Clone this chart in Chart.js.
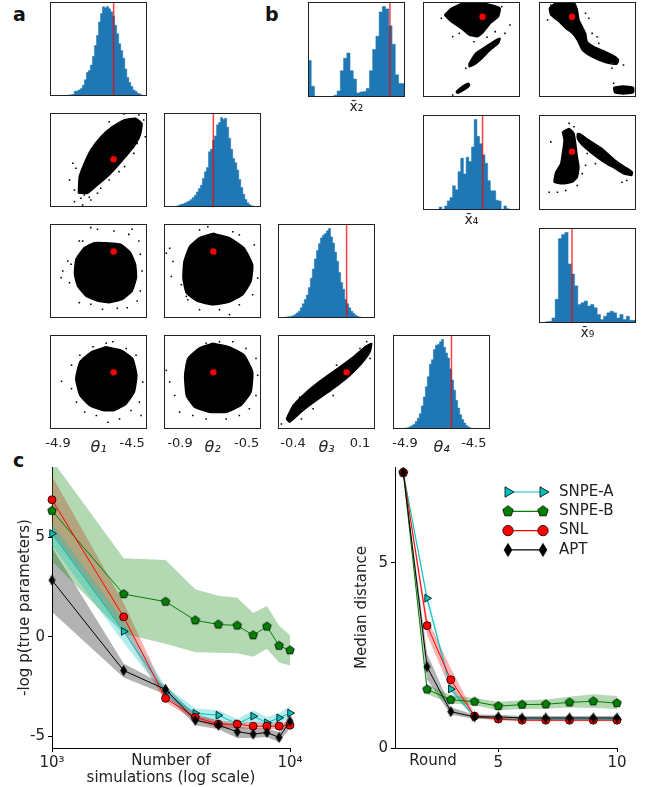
<!DOCTYPE html>
<html>
<head>
<meta charset="utf-8">
<script src="https://cdn.jsdelivr.net/npm/chart.js@4.4.1/dist/chart.umd.min.js"></script>
<style>
  body { margin:0; width:645px; height:787px; position:relative; overflow:hidden; background:#fff; font-family:'DejaVu Sans', sans-serif; }
  canvas { position:absolute; }
  .panel { position:absolute; font-weight:bold; font-size:19px; line-height:19px; color:#111; }
</style>
</head>
<body>
<div class="panel" style="left:13px;top:5px">a</div>
<div class="panel" style="left:265px;top:5px">b</div>
<div class="panel" style="left:13px;top:451px">c</div>
<script>
// ---- panel a : posterior over theta
const thetaLabels = ['θ\u2081', 'θ\u2082', 'θ\u2083', 'θ\u2084'];
const thetaMin = [-4.943, -0.996, -0.512, -4.97];
const thetaMax = [-4.42, -0.414, 0.212, -4.406];
const thetaTrue = [-4.60, -0.70, 0.0, -4.63];
const thetaTicks = [[-4.9, -4.5], [-0.9, -0.5], [-0.4, 0.1], [-4.9, -4.5]];

const histT1 = [0,0,0,0,0,1,1,2,1,2,3,4,5,14,15,18,22,32,48,70,76,92,118,150,180,220,245,265,262,266,259,250,238,210,185,155,135,112,80,55,40,28,18,14,8,6,3,1];
const histT2 = [0,0,0,0,1,1,2,3,5,8,9,12,15,18,22,28,35,45,55,65,85,105,118,165,172,200,212,245,252,267,262,265,238,205,172,145,132,110,82,58,38,22,13,7,4,2,1,0];
const histT3 = [0,0,0,0,2,3,4,5,7,10,15,20,30,42,55,68,90,118,145,175,200,220,237,245,250,258,265,240,222,195,168,135,105,85,55,42,30,20,14,8,5,3,2,1,0,0,0,0];
const histT4 = [0,2,1,0,2,1,2,3,4,7,10,14,22,32,45,68,95,125,155,192,205,235,248,250,258,265,242,225,210,178,145,115,85,62,42,28,18,10,6,3,2,1,0,0,0,0,0,0];

// sample clouds: outline of the dense region + loose samples around it
const cloudA21 = [[-4.790,-0.911],[-4.785,-0.808],[-4.758,-0.725],[-4.723,-0.643],[-4.669,-0.561],[-4.607,-0.499],[-4.544,-0.457],[-4.482,-0.447],[-4.447,-0.478],[-4.456,-0.550],[-4.491,-0.623],[-4.536,-0.685],[-4.589,-0.756],[-4.642,-0.818],[-4.687,-0.860],[-4.740,-0.911]];
const strayA21 = [[-4.820,-0.725],[-4.803,-0.756],[-4.838,-0.829],[-4.811,-0.891],[-4.776,-0.942],[-4.758,-0.922],[-4.811,-0.963],[-4.767,-0.984],[-4.731,-0.936],[-4.669,-0.880],[-4.624,-0.829],[-4.571,-0.777],[-4.541,-0.746],[-4.491,-0.664],[-4.473,-0.602],[-4.429,-0.561],[-4.438,-0.457],[-4.464,-0.426],[-4.544,-0.420],[-4.624,-0.468],[-4.687,-0.911],[-4.723,-0.953],[-4.785,-0.870]];
const cloudA31 = [[-4.642,0.068],[-4.562,0.056],[-4.509,-0.009],[-4.482,-0.098],[-4.477,-0.202],[-4.500,-0.304],[-4.553,-0.368],[-4.624,-0.394],[-4.687,-0.381],[-4.749,-0.343],[-4.794,-0.266],[-4.811,-0.175],[-4.803,-0.060],[-4.758,0.030],[-4.704,0.068]];
const strayA31 = [[-4.874,-0.150],[-4.883,-0.202],[-4.838,-0.240],[-4.829,-0.098],[-4.785,0.081],[-4.723,0.184],[-4.687,0.171],[-4.598,0.158],[-4.518,0.132],[-4.464,0.081],[-4.456,-0.021],[-4.447,-0.150],[-4.456,-0.304],[-4.473,-0.381],[-4.527,-0.433],[-4.580,-0.437],[-4.660,-0.445],[-4.723,-0.406],[-4.785,-0.394],[-4.767,0.081],[-4.500,0.171],[-4.847,-0.073]];
const cloudA32 = [[-0.703,0.140],[-0.603,0.107],[-0.514,0.025],[-0.464,-0.103],[-0.474,-0.231],[-0.524,-0.333],[-0.603,-0.389],[-0.703,-0.410],[-0.793,-0.384],[-0.862,-0.320],[-0.882,-0.205],[-0.876,-0.077],[-0.843,0.038],[-0.783,0.107]];
const strayA32 = [[-0.982,-0.013],[-0.962,0.025],[-0.942,-0.077],[-0.952,-0.192],[-0.892,-0.256],[-0.862,-0.346],[-0.733,0.191],[-0.783,0.166],[-0.583,0.153],[-0.544,0.128],[-0.454,0.051],[-0.434,-0.205],[-0.464,-0.333],[-0.544,-0.410],[-0.603,-0.486],[-0.663,-0.448],[-0.783,-0.448],[-0.853,-0.371]];
const cloudA41 = [[-4.640,-4.477],[-4.559,-4.497],[-4.497,-4.547],[-4.475,-4.648],[-4.488,-4.748],[-4.532,-4.819],[-4.595,-4.859],[-4.657,-4.859],[-4.729,-4.829],[-4.782,-4.769],[-4.804,-4.668],[-4.782,-4.567],[-4.720,-4.507]];
const strayA41 = [[-4.881,-4.684],[-4.827,-4.587],[-4.782,-4.527],[-4.711,-4.477],[-4.640,-4.456],[-4.604,-4.446],[-4.532,-4.487],[-4.479,-4.527],[-4.443,-4.688],[-4.461,-4.809],[-4.452,-4.889],[-4.506,-4.859],[-4.568,-4.910],[-4.631,-4.930],[-4.693,-4.889],[-4.756,-4.869],[-4.800,-4.809],[-4.827,-4.728]];
const cloudA42 = [[-0.703,-4.456],[-0.603,-4.477],[-0.514,-4.527],[-0.464,-4.628],[-0.474,-4.748],[-0.534,-4.829],[-0.623,-4.869],[-0.723,-4.869],[-0.813,-4.839],[-0.862,-4.769],[-0.872,-4.648],[-0.853,-4.547],[-0.783,-4.483]];
const strayA42 = [[-0.982,-4.618],[-0.962,-4.688],[-0.932,-4.769],[-0.902,-4.869],[-0.862,-4.587],[-0.833,-4.527],[-0.743,-4.456],[-0.663,-4.446],[-0.583,-4.446],[-0.504,-4.487],[-0.444,-4.547],[-0.434,-4.648],[-0.444,-4.769],[-0.484,-4.849],[-0.544,-4.889],[-0.623,-4.910],[-0.743,-4.910],[-0.823,-4.889]];
const cloudA43 = [[-0.450,-4.910],[-0.400,-4.829],[-0.300,-4.748],[-0.175,-4.668],[-0.050,-4.597],[0.050,-4.537],[0.137,-4.477],[0.187,-4.456],[0.175,-4.507],[0.112,-4.577],[0.025,-4.648],[-0.100,-4.728],[-0.225,-4.799],[-0.325,-4.859],[-0.425,-4.930]];
const strayA43 = [[-0.487,-4.940],[-0.437,-4.889],[-0.400,-4.879],[-0.350,-4.779],[-0.200,-4.698],[-0.075,-4.587],[0.100,-4.487],[0.150,-4.446],[0.175,-4.547],[0.050,-4.628],[-0.100,-4.769],[-0.250,-4.849],[-0.337,-4.910]];

// ---- panel b : summary statistics (scaled 0..1)
const xbarLabels = ['x\u0304\u2082', 'x\u0304\u2084', 'x\u0304\u2089'];
const xbarTrue = [0.845, 0.614, 0.34];
const histX2 = [26,108,32,2,0,0,0,0,0,5,18,78,115,130,78,53,12,15,16,25,78,141,180,252,268,261,211,156,66,40];
const histX4 = [0,0,0,0,0,0,0,9,0,12,27,37,72,60,114,154,107,157,144,187,269,219,197,164,139,87,57,57,29,27,0,12,4,0,0,0];
const histX9 = [0,0,0,4,5,15,70,250,262,268,175,145,110,55,60,65,50,55,45,25,10,20,30,35,30,15,25,10,20,8];

const cloudB12a = [[0.222,0.863],[0.290,0.933],[0.407,0.986],[0.576,0.993],[0.710,0.968],[0.795,0.933],[0.778,0.846],[0.694,0.775],[0.626,0.688],[0.559,0.635],[0.475,0.653],[0.391,0.723],[0.290,0.793]];
const cloudB12b = [[0.475,0.354],[0.542,0.460],[0.643,0.530],[0.761,0.607],[0.795,0.618],[0.778,0.565],[0.694,0.495],[0.609,0.407],[0.525,0.337],[0.475,0.319]];
const cloudB12c = [[0.340,0.056],[0.391,0.102],[0.468,0.144],[0.481,0.123],[0.424,0.074],[0.357,0.039]];
const strayB12 = [[0.189,0.828],[0.306,0.635],[0.374,0.670],[0.525,0.582],[0.744,0.688],[0.845,0.670],[0.896,0.758],[0.811,0.951],[0.441,0.302],[0.306,0.021],[0.660,0.628]];
const cloudB13a = [[0.105,0.933],[0.173,0.993],[0.361,0.993],[0.395,0.916],[0.412,0.811],[0.446,0.740],[0.480,0.670],[0.497,0.582],[0.565,0.530],[0.684,0.477],[0.786,0.425],[0.820,0.389],[0.803,0.347],[0.718,0.354],[0.616,0.389],[0.514,0.442],[0.446,0.495],[0.395,0.600],[0.344,0.670],[0.276,0.723],[0.207,0.793],[0.122,0.863]];
const cloudB13b = [[0.769,0.102],[0.871,0.116],[0.973,0.102],[0.973,0.046],[0.871,0.032],[0.779,0.046]];
const strayB13 = [[0.088,0.811],[0.122,0.968],[0.480,0.881],[0.514,0.828],[0.548,0.670],[0.599,0.635],[0.616,0.565],[0.871,0.337],[0.752,0.302],[0.769,0.144]];
const cloudB23a = [[0.241,0.823],[0.310,0.859],[0.361,0.806],[0.378,0.700],[0.395,0.558],[0.412,0.452],[0.395,0.346],[0.344,0.293],[0.241,0.276],[0.156,0.293],[0.173,0.399],[0.224,0.488],[0.241,0.594],[0.259,0.735]];
const cloudB23b = [[0.395,0.806],[0.429,0.799],[0.514,0.735],[0.650,0.647],[0.786,0.523],[0.888,0.452],[0.963,0.399],[0.956,0.364],[0.871,0.382],[0.786,0.435],[0.667,0.505],[0.548,0.594],[0.446,0.682],[0.395,0.753]];
const strayB23 = [[0.122,0.717],[0.310,0.912],[0.361,0.876],[0.105,0.187],[0.276,0.205],[0.395,0.258],[0.480,0.470],[0.582,0.488],[0.446,0.382],[0.854,0.293],[0.905,0.311],[0.497,0.594],[0.190,0.187]];

// ---- panel c : performance
const methods = ['SNPE-A', 'SNPE-B', 'SNL', 'APT'];
const sims = [1000, 2000, 3000, 4000, 5000, 6000, 7000, 8000, 9000, 10000];
const simTicks = [1000, 10000];
const simTickLabels = ['10\u00b3', '10\u2074'];
const lpTicks = [5, 0, -5];
const lpSnpeA = [5.2, 0.27, -2.8, -3.85, -3.95, -4.38, -4.0, -4.33, -4.08, -3.84];
const lpSnpeB = [6.35, 2.15, 1.77, 0.83, 0.62, 0.57, 0.08, 0.52, -0.45, -0.68];
const lpSnl   = [6.9, 1.0, -3.1, -4.05, -4.4, -4.4, -4.5, -4.5, -4.5, -4.45];
const lpApt   = [2.85, -1.7, -2.65, -4.2, -4.45, -4.78, -4.9, -4.82, -5.07, -4.25];
const lpSnpeAHi = [5.7, 0.8, -2.5, -3.6, -3.7, -4.15, -3.7, -4.05, -3.85, -3.5];
const lpSnpeALo = [4.6, -0.3, -3.0, -4.1, -4.2, -4.6, -4.25, -4.55, -4.35, -4.1];
const lpSnpeBHi = [8.9, 3.95, 3.87, 2.4, 2.07, 1.97, 1.2, 1.55, 0.55, 0.08];
const lpSnpeBLo = [3.8, 0.15, -0.35, -0.78, -0.8, -0.83, -1.0, -0.6, -1.3, -1.45];
const lpSnlHi = [8.1, 1.7, -2.8, -3.85, -4.25, -4.25, -4.3, -4.3, -4.3, -4.25];
const lpSnlLo = [5.2, 0.3, -3.3, -4.2, -4.6, -4.6, -4.65, -4.65, -4.65, -4.65];
const lpAptHi = [4.5, -1.35, -2.45, -3.95, -4.2, -4.5, -4.6, -4.6, -4.8, -3.9];
const lpAptLo = [1.25, -2.05, -2.9, -4.45, -4.65, -5.1, -5.1, -5.05, -5.3, -4.6];

const rounds = [1, 2, 3, 4, 5, 6, 7, 8, 9, 10];
const roundTicks = [5, 10];
const distTicks = [0, 5];
const mdSnpeA = [7.43, 4.04, 1.59, 0.84, 0.79, 0.78, 0.77, 0.77, 0.77, 0.77];
const mdSnpeB = [7.43, 1.58, 1.30, 1.25, 1.13, 1.17, 1.18, 1.23, 1.26, 1.21];
const mdSnl   = [7.43, 3.30, 1.84, 0.86, 0.78, 0.75, 0.75, 0.75, 0.75, 0.75];
const mdApt   = [7.43, 2.19, 0.98, 0.84, 0.84, 0.81, 0.81, 0.81, 0.81, 0.81];
const mdSnpeAHi = [7.48, 4.16, 1.70, 0.88, 0.82, 0.81, 0.80, 0.80, 0.80, 0.80];
const mdSnpeALo = [7.38, 3.92, 1.50, 0.80, 0.76, 0.75, 0.74, 0.74, 0.74, 0.74];
const mdSnpeBHi = [7.48, 1.72, 1.42, 1.35, 1.25, 1.29, 1.31, 1.38, 1.45, 1.40];
const mdSnpeBLo = [7.38, 1.45, 1.20, 1.15, 1.02, 1.05, 1.06, 1.09, 1.08, 1.05];
const mdSnlHi = [7.48, 3.50, 2.15, 0.92, 0.82, 0.79, 0.79, 0.79, 0.79, 0.79];
const mdSnlLo = [7.38, 3.05, 1.55, 0.80, 0.74, 0.72, 0.72, 0.72, 0.72, 0.72];
const mdAptHi = [7.48, 2.55, 1.10, 0.90, 0.90, 0.86, 0.86, 0.86, 0.86, 0.86];
const mdAptLo = [7.38, 1.85, 0.90, 0.78, 0.79, 0.77, 0.77, 0.77, 0.77, 0.77];

// ---- defaults
Chart.defaults.font.family = "'DejaVu Sans', sans-serif";
Chart.defaults.color = '#222';
Chart.defaults.animation = false;
Chart.defaults.responsive = false;
Chart.defaults.events = [];
Chart.defaults.plugins.legend.display = false;
Chart.defaults.plugins.tooltip.enabled = false;

function addCanvas(left, top, w, h) {
  const cv = document.createElement('canvas');
  cv.width = w; cv.height = h;
  cv.style.left = left + 'px'; cv.style.top = top + 'px';
  cv.style.width = w + 'px'; cv.style.height = h + 'px';
  document.body.appendChild(cv);
  return cv;
}

const toXY = p => ({ x: p[0], y: p[1] });
const closePoly = p => p.concat([p[0]]).map(toXY);

// box around each small panel
const framePlugin = {
  id: 'frame',
  afterDraw(c) {
    const a = c.chartArea, ctx = c.ctx;
    ctx.save();
    ctx.strokeStyle = '#222';
    ctx.lineWidth = 1;
    ctx.strokeRect(Math.round(a.left) + 0.5, Math.round(a.top) + 0.5, Math.round(a.width) - 1, Math.round(a.height) - 1);
    ctx.restore();
  }
};

// bottom axis of the small panels (ticks + label, or label only)
function xAxis(min, max, lbl) {
  const o = { type: 'linear', min: min, max: max, offset: false, display: !!lbl, grid: { offset: false } };
  if (!lbl) return o;
  return Object.assign(o, {
    grid: { display: false, drawTicks: false, offset: false },
    border: { display: false },
    afterFit: s => { s.height = lbl.ticks ? 30 : 22; s.paddingLeft = 0; s.paddingRight = 0; },
    afterBuildTicks: s => { s.ticks = (lbl.ticks || []).map(v => ({ value: v })); },
    ticks: { display: !!lbl.ticks, padding: 7, autoSkip: false, maxRotation: 0, font: { size: 13 }, callback: v => v.toFixed(1) },
    title: { display: true, text: lbl.title, color: '#222',
      font: { size: lbl.ticks ? 16 : 14, style: lbl.ticks ? 'italic' : 'normal' },
      padding: { top: 0, bottom: lbl.ticks ? 2 : 3 } }
  });
}

// panels with tick labels get a side margin so the labels are not cut
function panelCanvas(left, top, w, h, lbl) {
  const m = lbl && lbl.ticks ? 14 : 0;
  const extra = lbl ? (lbl.ticks ? 30 : 22) : 0;
  return { cv: addCanvas(left - m, top, w + 2 * m, h + extra), pad: { left: m, right: m, top: 0, bottom: 0 } };
}

// histogram as a filled step outline over equal-width bins spanning [min, max]
function drawHist(left, top, w, h, bins, min, max, truth, lbl) {
  const pc = panelCanvas(left, top, w, h, lbl);
  const ymax = Math.max(...bins) * 1.05;
  const step = (max - min) / bins.length;
  const steps = bins.map((b, i) => ({ x: min + i * step, y: b }));
  steps.push({ x: max, y: bins[bins.length - 1] });
  new Chart(pc.cv, {
    type: 'line',
    data: {
      datasets: [
        { data: [{ x: truth, y: 0 }, { x: truth, y: ymax }],
          borderColor: 'rgba(255,0,0,0.75)', borderWidth: 1.5, pointRadius: 0, order: 0 },
        { data: steps, stepped: 'after', fill: 'origin', backgroundColor: '#1f77b4',
          borderColor: '#1f77b4', borderWidth: 0.5, pointRadius: 0, order: 1 }
      ]
    },
    options: {
      layout: { padding: pc.pad, autoPadding: false },
      scales: { x: xAxis(min, max, lbl), y: { display: false, min: 0, max: ymax } }
    },
    plugins: [framePlugin]
  });
}

function drawCloud(left, top, w, h, xr, yr, polys, strays, truth, lbl) {
  const pc = panelCanvas(left, top, w, h, lbl);
  const ds = [
    { type: 'scatter', data: [toXY(truth)], pointRadius: 3.2, backgroundColor: '#ff0000', pointBackgroundColor: '#ff0000', pointBorderWidth: 0, order: 0 },
    { type: 'scatter', data: strays.map(toXY), pointRadius: 1.1, pointStyle: 'rect', backgroundColor: '#000', pointBackgroundColor: '#000', pointBorderWidth: 0, order: 1 }
  ];
  polys.forEach(p => ds.push({ type: 'line', data: closePoly(p), fill: 'shape', backgroundColor: '#000',
    borderColor: '#000', borderWidth: 1.5, pointRadius: 0, tension: 0.15, order: 2 }));
  new Chart(pc.cv, {
    type: 'scatter',
    data: { datasets: ds },
    options: {
      layout: { padding: pc.pad, autoPadding: false },
      scales: { x: xAxis(xr[0], xr[1], lbl), y: { display: false, min: yr[0], max: yr[1] } }
    },
    plugins: [framePlugin]
  });
}

// ---- panel a layout
const aCol = [50, 164, 278, 393], aRow = [2, 113, 224, 335], aW = 97, aH = 94;
const histA = [histT1, histT2, histT3, histT4];
histA.forEach((bins, k) => {
  drawHist(aCol[k], aRow[k], aW, aH, bins, thetaMin[k], thetaMax[k], thetaTrue[k],
    k === 3 ? { title: thetaLabels[k], ticks: thetaTicks[k] } : null);
});
[[1, 0, cloudA21, strayA21], [2, 0, cloudA31, strayA31], [2, 1, cloudA32, strayA32],
 [3, 0, cloudA41, strayA41], [3, 1, cloudA42, strayA42], [3, 2, cloudA43, strayA43]].forEach(([i, j, cl, st]) => {
  drawCloud(aCol[j], aRow[i], aW, aH, [thetaMin[j], thetaMax[j]], [thetaMin[i], thetaMax[i]], [cl], st,
    [thetaTrue[j], thetaTrue[i]], i === 3 ? { title: thetaLabels[j], ticks: thetaTicks[j] } : null);
});

// ---- panel b layout
const bCol = [308, 423, 539], bRow = [2, 115, 228], bW = 97, bH = 95;
[histX2, histX4, histX9].forEach((bins, k) => {
  drawHist(bCol[k], bRow[k], bW, bH, bins, 0, 1, xbarTrue[k], { title: xbarLabels[k] });
});
drawCloud(bCol[1], bRow[0], bW, bH, [0, 1], [0, 1], [cloudB12a, cloudB12b, cloudB12c], strayB12, [xbarTrue[1], xbarTrue[0]], null);
drawCloud(bCol[2], bRow[0], bW, bH, [0, 1], [0, 1], [cloudB13a, cloudB13b], strayB13, [xbarTrue[2], xbarTrue[0]], null);
drawCloud(bCol[2], bRow[1], bW, bH, [0, 1], [0, 1], [cloudB23a, cloudB23b], strayB23, [xbarTrue[2], xbarTrue[1]], null);

// ---- panel c
function markerImg(kind, fill, r) {
  const s = Math.ceil(r * 2 + 3);
  const cv = document.createElement('canvas');
  cv.width = s; cv.height = s;
  const g = cv.getContext('2d'), c = s / 2;
  g.beginPath();
  if (kind === 'pentagon') {
    for (let k = 0; k < 5; k++) {
      const a = -Math.PI / 2 + k * 2 * Math.PI / 5;
      g.lineTo(c + r * Math.cos(a), c + r * Math.sin(a));
    }
  } else {
    g.moveTo(c, c - r); g.lineTo(c + 0.6 * r, c); g.lineTo(c, c + r); g.lineTo(c - 0.6 * r, c);
  }
  g.closePath();
  g.fillStyle = fill; g.fill();
  g.strokeStyle = '#000'; g.lineWidth = 0.8; g.stroke();
  return cv;
}

const colA = '#00bfbf', colB = '#008000', colL = '#ff0000', colT = '#000000';
const markers = [
  { style: 'triangle', r: 4.5, rot: 90, fill: colA, legend: { style: 'triangle', r: 6, rot: 90 } },
  { style: markerImg('pentagon', colB, 4.5), r: 4.5, fill: colB, legend: { style: markerImg('pentagon', colB, 5.5), r: 5.5 } },
  { style: 'circle', r: 4, fill: colL, legend: { style: 'circle', r: 5.2 } },
  { style: markerImg('diamond', colT, 5), r: 5, fill: colT, legend: { style: markerImg('diamond', colT, 6.5), r: 6.5 } }
];
const lineCols = [colA, colB, colL, colT];
const bandCols = ['rgba(0,191,191,0.3)', 'rgba(0,128,0,0.3)', 'rgba(255,0,0,0.3)', 'rgba(0,0,0,0.3)'];

function seriesDs(k, xs, ys) {
  const mk = markers[k];
  return { label: methods[k], data: xs.map((x, i) => ({ x: x, y: ys[i] })), borderColor: lineCols[k], borderWidth: 1,
    fill: false, tension: 0, pointStyle: mk.style, pointRadius: mk.r, pointRotation: mk.rot || 0,
    pointBackgroundColor: mk.fill, pointBorderColor: '#000', pointBorderWidth: 0.8, clip: false,
    order: 4 - k, legendMarker: mk.legend };
}
function bandDs(k, xs, lo, hi) {
  return [
    { data: xs.map((x, i) => ({ x: x, y: hi[i] })), fill: '+1', backgroundColor: bandCols[k],
      borderColor: 'transparent', borderWidth: 0, pointRadius: 0, order: 10 },
    { data: xs.map((x, i) => ({ x: x, y: lo[i] })), fill: false,
      borderColor: 'transparent', borderWidth: 0, pointRadius: 0, order: 10 }
  ];
}

const legendPlugin = {
  id: 'lineLegend',
  afterDraw(c, args, o) {
    if (!o || !o.show) return;
    const ctx = c.ctx;
    c.data.datasets.filter(d => d.label).forEach((d, i) => {
      const y = o.top + i * o.gap;
      ctx.save();
      ctx.strokeStyle = d.borderColor; ctx.lineWidth = 1.2;
      ctx.beginPath(); ctx.moveTo(o.x1, y); ctx.lineTo(o.x2, y); ctx.stroke();
      const m = d.legendMarker;
      [o.x1, o.x2].forEach(x => {
        ctx.fillStyle = d.pointBackgroundColor; ctx.strokeStyle = '#000'; ctx.lineWidth = 0.8;
        Chart.helpers.drawPoint(ctx, { pointStyle: m.style, radius: m.r, rotation: m.rot || 0, borderWidth: 0.8 }, x, y);
      });
      ctx.fillStyle = '#222'; ctx.font = "15px 'DejaVu Sans'"; ctx.textBaseline = 'middle'; ctx.textAlign = 'left';
      ctx.fillText(d.label, o.tx, y);
      ctx.restore();
    });
  }
};
const textPlugin = {
  id: 'freeText',
  afterDraw(c, args, o) {
    if (!o || !o.items) return;
    const ctx = c.ctx;
    o.items.forEach(t => {
      ctx.save();
      ctx.fillStyle = '#222'; ctx.font = "15px 'DejaVu Sans'"; ctx.textAlign = 'center'; ctx.textBaseline = 'middle';
      ctx.fillText(t.text, t.x, t.y);
      ctx.restore();
    });
  }
};

function spineAxis(extra) {
  return Object.assign({
    grid: { drawOnChartArea: false, tickLength: 4, color: '#000', tickWidth: 1 },
    border: { color: '#000', width: 1 },
    ticks: { font: { size: 15 }, color: '#222', autoSkip: false, maxRotation: 0 }
  }, extra);
}

// left: -log p(true parameters)
new Chart(addCanvas(0, 455, 305, 332), {
  type: 'line',
  data: { datasets: [].concat(
    bandDs(0, sims, lpSnpeALo, lpSnpeAHi), bandDs(1, sims, lpSnpeBLo, lpSnpeBHi),
    bandDs(2, sims, lpSnlLo, lpSnlHi), bandDs(3, sims, lpAptLo, lpAptHi),
    [seriesDs(0, sims, lpSnpeA), seriesDs(1, sims, lpSnpeB), seriesDs(2, sims, lpSnl), seriesDs(3, sims, lpApt)]) },
  options: {
    layout: { padding: { top: 7, right: 15, left: 0, bottom: 0 } },
    scales: {
      x: spineAxis({ type: 'logarithmic', min: 1000, max: 10000,
        afterFit: s => { s.height = 39; },
        afterBuildTicks: s => { s.ticks = simTicks.map(v => ({ value: v })); },
        ticks: { font: { size: 15 }, color: '#222', padding: 2, autoSkip: false, maxRotation: 0, callback: (v, i) => simTickLabels[i] },
        title: { display: true, text: ['Number of', 'simulations (log scale)'], color: '#222', font: { size: 15, lineHeight: 1.1 }, padding: { top: 0, bottom: 1 } } }),
      y: spineAxis({ min: -5.6, max: 8.55,
        afterFit: s => { s.width = 52; },
        afterBuildTicks: s => { s.ticks = lpTicks.map(v => ({ value: v })); },
        ticks: { font: { size: 15 }, color: '#222', padding: 3, callback: v => String(v) },
        title: { display: true, text: '-log p(true parameters)', color: '#222', font: { size: 15 }, padding: { top: 16 } } })
    }
  }
});

// right: median distance per round
new Chart(addCanvas(320, 455, 325, 332), {
  type: 'line',
  data: { datasets: [].concat(
    bandDs(0, rounds, mdSnpeALo, mdSnpeAHi), bandDs(1, rounds, mdSnpeBLo, mdSnpeBHi),
    bandDs(2, rounds, mdSnlLo, mdSnlHi), bandDs(3, rounds, mdAptLo, mdAptHi),
    [seriesDs(0, rounds, mdSnpeA), seriesDs(1, rounds, mdSnpeB), seriesDs(2, rounds, mdSnl), seriesDs(3, rounds, mdApt)]) },
  options: {
    layout: { padding: { top: 7, right: 28, left: 0, bottom: 0 } },
    plugins: {
      lineLegend: { show: true, x1: 188, x2: 223, tx: 239, top: 37, gap: 19.3 },
      freeText: { items: [{ text: 'Round', x: 113, y: 306 }] }
    },
    scales: {
      x: spineAxis({ type: 'linear', min: 0.65, max: 10,
        afterFit: s => { s.height = 39; },
        afterBuildTicks: s => { s.ticks = roundTicks.map(v => ({ value: v })); },
        ticks: { font: { size: 15 }, color: '#222', padding: 2, autoSkip: false, maxRotation: 0, callback: v => String(v) } }),
      y: spineAxis({ min: 0, max: 7.58,
        afterFit: s => { s.width = 75; },
        afterBuildTicks: s => { s.ticks = distTicks.map(v => ({ value: v })); },
        ticks: { font: { size: 15 }, color: '#222', padding: 3, callback: v => String(v) },
        title: { display: true, text: 'Median distance', color: '#222', font: { size: 15 }, padding: { top: 33 } } })
    }
  },
  plugins: [legendPlugin, textPlugin]
});
</script>
</body>
</html>
